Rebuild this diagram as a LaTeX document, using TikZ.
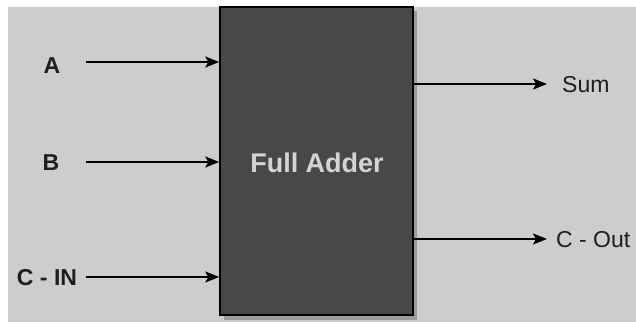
\documentclass[tikz,border=0pt]{standalone}
\usepackage{fontspec}
\setmainfont{Liberation Sans}
\usetikzlibrary{arrows.meta}
\definecolor{panel}{HTML}{CDCDCD}
\definecolor{blockfill}{HTML}{484848}
\definecolor{blockshadow}{HTML}{9A9A9A}
\definecolor{labeltext}{HTML}{1E1E1E}
\definecolor{blocktext}{HTML}{D4D4D4}
\tikzset{
  sig/.style={line width=1.6pt, draw=black, -{Stealth[length=14pt,width=11pt,inset=3pt]}},
  inlabel/.style={inner sep=0pt, text=labeltext, font=\fontsize{23}{27}\selectfont\bfseries},
  outlabel/.style={inner sep=0pt, text=labeltext, font=\fontsize{23}{27}\selectfont, anchor=west},
  block/.style={draw=black, line width=1.5pt, fill=blockfill, minimum width=193pt, minimum height=308pt, inner sep=0pt}
}
\begin{document}
\begin{tikzpicture}[x=1pt,y=-1pt]
  \useasboundingbox (0,0) rectangle (636,322);
  % page strip and grey panel
  \fill[white] (0,0) rectangle (636,322);
  \fill[panel] (8,7) rectangle (636,322);
  % drop shadow of the adder block
  \fill[blockshadow] (224,11) rectangle (417,320);
  % adder block
  \node[block] (fa) at (316.5,161) {};
  \node[text=blocktext, font=\fontsize{27}{31}\selectfont\bfseries] (fatext) at (317,163) {Full Adder};
  % input labels and arrow starts
  \node[inlabel] (a) at (52,66) {A};
  \node[inlabel] (b) at (51,163) {B};
  \node[inlabel] (cin) at (47,278) {C - IN};
  \coordinate (ain) at (86,62);
  \coordinate (bin) at (86,162);
  \coordinate (cinin) at (86,277);
  \draw[sig] (ain) -- (ain -| fa.west);
  \draw[sig] (bin) -- (bin -| fa.west);
  \draw[sig] (cinin) -- (cinin -| fa.west);
  % output labels
  \node[outlabel] (sum) at (562,85) {Sum};
  \node[outlabel] (cout) at (556,240) {C - Out};
  \coordinate (sumend) at (547,84);
  \coordinate (coutend) at (547,239);
  \draw[sig] (sumend -| fa.east) -- (sumend);
  \draw[sig] (coutend -| fa.east) -- (coutend);
\end{tikzpicture}
\end{document}
